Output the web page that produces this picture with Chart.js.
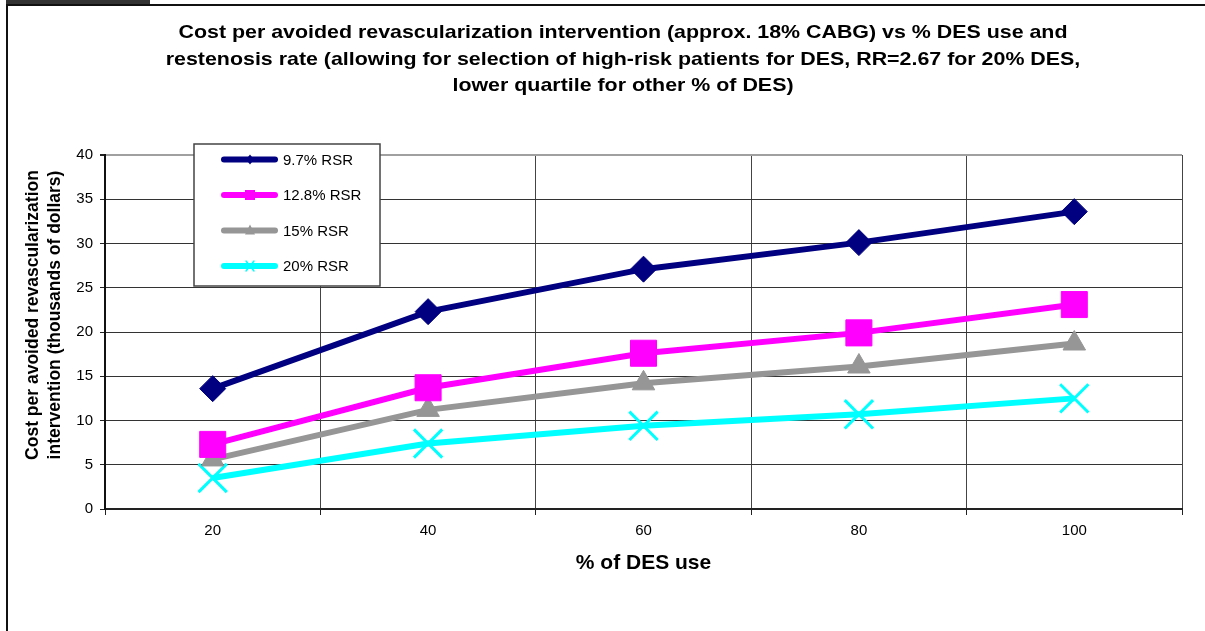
<!DOCTYPE html>
<html>
<head>
<meta charset="utf-8">
<script src="https://cdn.jsdelivr.net/npm/chart.js@4.4.1/dist/chart.umd.min.js"></script>
<style>
  html, body { margin: 0; padding: 0; background: #fff; }
</style>
</head>
<body>
<canvas id="chart" width="1205" height="631"></canvas>
<script>
// 데이터
const desUse = ["20", "40", "60", "80", "100"];
const rsr97 = [13.6, 22.3, 27.1, 30.1, 33.6];
const rsr128 = [7.3, 13.7, 17.6, 19.9, 23.1];
const rsr15 = [5.6, 11.2, 14.2, 16.1, 18.7];
const rsr20 = [3.5, 7.4, 9.4, 10.7, 12.5];
const seriesNames = ["9.7% RSR", "12.8% RSR", "15% RSR", "20% RSR"];

const titleLines = [
  "Cost per avoided revascularization intervention (approx. 18% CABG) vs % DES use and",
  "restenosis rate (allowing for selection of high-risk patients for DES, RR=2.67 for 20% DES,",
  "lower quartile for other % of DES)",
];
const yTitle = ["Cost per avoided revascularization", "intervention (thousands of dollars)"];
const xTitle = "% of DES use";

const FONT = '"Liberation Sans", Arial, sans-serif';
Chart.defaults.font.family = FONT;
Chart.defaults.color = "#000";

// 바깥 테두리 + 제목 + y축 제목
const framePlugin = {
  id: "frame",
  beforeDraw(chart) {
    const ctx = chart.ctx;
    ctx.save();
    ctx.fillStyle = "#fff";
    ctx.fillRect(0, 0, chart.width, chart.height);
    ctx.fillStyle = "#333";
    ctx.fillRect(6, 0, 144, 5);
    ctx.strokeStyle = "#111";
    ctx.lineWidth = 2;
    ctx.beginPath();
    ctx.moveTo(6, 5);
    ctx.lineTo(chart.width, 5);
    ctx.moveTo(7, 5);
    ctx.lineTo(7, chart.height);
    ctx.stroke();

    // 제목: 원본 글자가 가로로 넓어서 살짝 늘려 그림
    ctx.fillStyle = "#000";
    ctx.font = "bold 19px " + FONT;
    ctx.textAlign = "center";
    ctx.textBaseline = "alphabetic";
    const sx = 889 / ctx.measureText(titleLines[0]).width;
    titleLines.forEach((line, i) => {
      ctx.save();
      ctx.translate(623, 38 + i * 26.5);
      ctx.scale(sx, 1);
      ctx.fillText(line, 0, 0);
      ctx.restore();
    });

    // y축 제목 (원본은 축 가운데보다 조금 위)
    ctx.font = "bold 17.5px " + FONT;
    ctx.textBaseline = "middle";
    yTitle.forEach((line, i) => {
      ctx.save();
      ctx.translate(33 + i * 22, 315);
      ctx.rotate(-Math.PI / 2);
      ctx.fillText(line, 0, 0);
      ctx.restore();
    });
    ctx.restore();
  },
};

// 작은 마커 그리기 (범례용)
function drawMarker(ctx, style, x, y, color) {
  ctx.fillStyle = color;
  ctx.strokeStyle = color;
  ctx.beginPath();
  if (style === "rectRot") {
    ctx.moveTo(x, y - 5);
    ctx.lineTo(x + 4, y);
    ctx.lineTo(x, y + 5);
    ctx.lineTo(x - 4, y);
    ctx.closePath();
    ctx.fill();
  } else if (style === "rect") {
    ctx.fillRect(x - 5, y - 5, 10, 10);
  } else if (style === "triangle") {
    ctx.moveTo(x, y - 6);
    ctx.lineTo(x + 5, y + 4);
    ctx.lineTo(x - 5, y + 4);
    ctx.closePath();
    ctx.fill();
  } else {
    ctx.lineWidth = 1.5;
    ctx.moveTo(x - 4, y - 5);
    ctx.lineTo(x + 4, y + 5);
    ctx.moveTo(x + 4, y - 5);
    ctx.lineTo(x - 4, y + 5);
    ctx.stroke();
  }
}

// 범례 (플롯 안쪽 왼쪽 위 상자)
const legendBoxPlugin = {
  id: "legendBox",
  afterDatasetsDraw(chart) {
    const ctx = chart.ctx;
    ctx.save();
    ctx.fillStyle = "#fff";
    ctx.fillRect(194, 144, 186, 142);
    ctx.strokeStyle = "#444";
    ctx.lineWidth = 1.5;
    ctx.strokeRect(194, 144, 186, 142);
    chart.data.datasets.forEach((ds, i) => {
      const y = 159.5 + i * 35.5;
      ctx.strokeStyle = ds.borderColor;
      ctx.lineWidth = 6;
      ctx.lineCap = "round";
      ctx.beginPath();
      ctx.moveTo(224, y);
      ctx.lineTo(275, y);
      ctx.stroke();
      drawMarker(ctx, ds.pointStyle, 250, y, ds.borderColor);
      ctx.fillStyle = "#000";
      ctx.font = "15px " + FONT;
      ctx.textAlign = "left";
      ctx.textBaseline = "middle";
      ctx.fillText(ds.label, 283, y + 1);
    });
    ctx.restore();
  },
};

new Chart(document.getElementById("chart"), {
  type: "line",
  data: {
    labels: desUse,
    datasets: [
      {
        label: seriesNames[0],
        data: rsr97,
        borderColor: "#000080",
        backgroundColor: "#000080",
        borderWidth: 6,
        pointStyle: "rectRot",
        pointRadius: 13,
        pointBorderWidth: 1,
      },
      {
        label: seriesNames[1],
        data: rsr128,
        borderColor: "#ff00ff",
        backgroundColor: "#ff00ff",
        borderWidth: 6,
        pointStyle: "rect",
        pointRadius: 18.4,
        pointBorderWidth: 1,
      },
      {
        label: seriesNames[2],
        data: rsr15,
        borderColor: "#969696",
        backgroundColor: "#969696",
        borderWidth: 6,
        pointStyle: "triangle",
        pointRadius: 13,
        pointBorderWidth: 1,
      },
      {
        label: seriesNames[3],
        data: rsr20,
        borderColor: "#00ffff",
        backgroundColor: "#00ffff",
        borderWidth: 6,
        pointStyle: "crossRot",
        pointRadius: 20,
        pointBorderWidth: 3,
      },
    ],
  },
  options: {
    responsive: false,
    animation: false,
    devicePixelRatio: 1,
    layout: { padding: { left: 10, right: 20, top: 155, bottom: 52 } },
    plugins: {
      legend: { display: false },
      title: { display: false },
      tooltip: { enabled: false },
    },
    elements: { line: { tension: 0 } },
    scales: {
      x: {
        offset: true,
        grid: {
          offset: true,
          color: (c) => (c.index === desUse.length ? "#909090" : "#444"),
          lineWidth: (c) => (c.index === desUse.length ? 2 : 1),
          tickLength: 6,
          tickColor: "#222",
        },
        border: { color: "#222", width: 2 },
        ticks: { font: { size: 15 }, color: "#000", padding: 7 },
        title: {
          display: true,
          text: xTitle,
          font: { size: 21, weight: "bold" },
          color: "#000",
          padding: { top: 0, bottom: 3 },
        },
        afterFit: (s) => {
          s.height = 70;
        },
      },
      y: {
        min: 0,
        max: 40,
        ticks: { stepSize: 5, font: { size: 15 }, color: "#000", padding: 7 },
        grid: {
          color: (c) => (c.tick && c.tick.value === 40 ? "#a0a0a0" : "#333"),
          lineWidth: (c) => (c.tick && c.tick.value === 40 ? 2 : 1),
          tickLength: 5,
          tickColor: "#222",
        },
        border: { color: "#111", width: 2 },
        title: { display: false },
        afterFit: (s) => {
          s.width = 95;
        },
      },
    },
  },
  plugins: [framePlugin, legendBoxPlugin],
});
</script>
</body>
</html>
